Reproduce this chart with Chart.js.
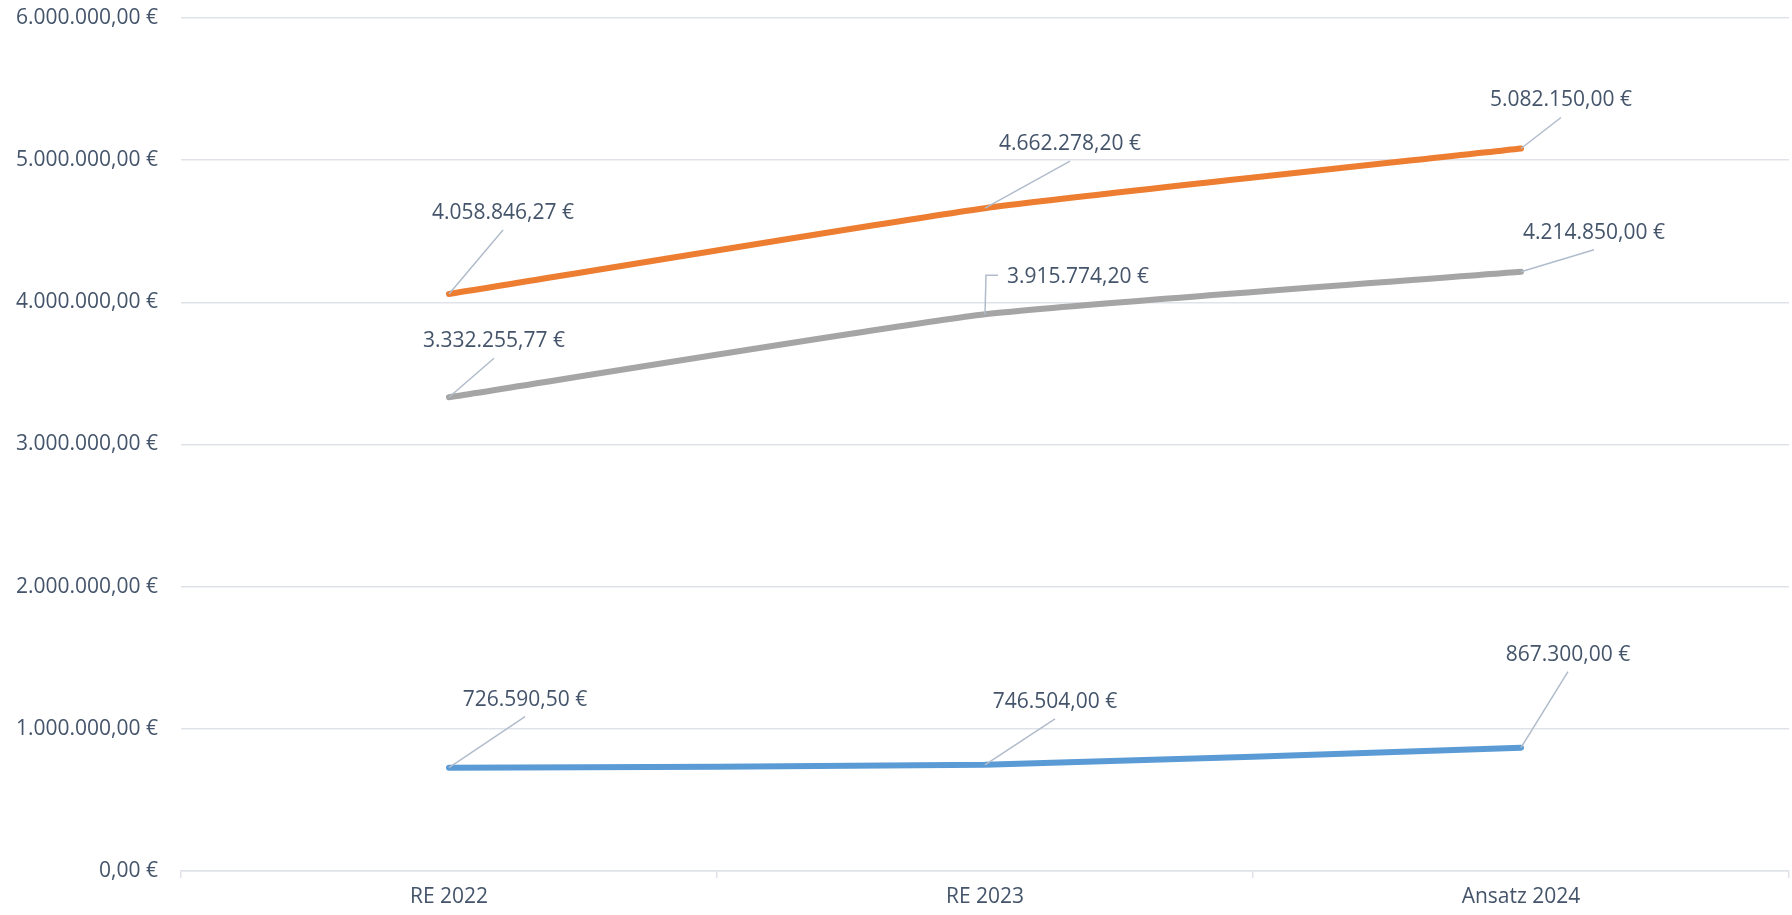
<!DOCTYPE html>
<html>
<head>
<meta charset="utf-8">
<script src="https://cdn.jsdelivr.net/npm/chart.js@4"></script>
<style>
    html, body { margin: 0; padding: 0; background: #fff; }
    #wrap { width: 1792px; height: 915px; }
</style>
</head>
<body>
<div id="wrap"><canvas id="mainChart" width="1792" height="915"></canvas></div>
<script>
// Data
const categories = ['RE 2022', 'RE 2023', 'Ansatz 2024'];
const seriesOrange = [4058846.27, 4662278.20, 5082150.00];
const seriesGray = [3332255.77, 3915774.20, 4214850.00];
const seriesBlue = [726590.50, 746504.00, 867300.00];
const yTicks = [0, 1000000, 2000000, 3000000, 4000000, 5000000, 6000000];

const TEXT_COLOR = '#44546A';
const FONT = '"Open Sans", "Noto Sans", sans-serif';

function euro(v) {
    const fixed = Math.abs(v).toFixed(2);
    const [intPart, dec] = fixed.split('.');
    const grouped = intPart.replace(/\B(?=(\d{3})+(?!\d))/g, '.');
    return (v < 0 ? '-' : '') + grouped + ',' + dec + ' €';
}

// where each data label sits relative to its point (pixels)
const labelOffsets = [
    [{ dx: 54, dy: -81 }, { dx: 85, dy: -64 }, { dx: 40, dy: -48 }],
    [{ dx: 45, dy: -56 }, { dx: 93, dy: -37, elbow: true }, { dx: 73, dy: -39 }],
    [{ dx: 76, dy: -68 }, { dx: 70, dy: -63 }, { dx: 47, dy: -93 }]
];

const calloutPlugin = {
    id: 'callouts',
    afterDatasetsDraw(chart) {
        const ctx = chart.ctx;
        ctx.save();
        ctx.font = '21px ' + FONT;
        chart.data.datasets.forEach((ds, di) => {
            const meta = chart.getDatasetMeta(di);
            meta.data.forEach((pt, i) => {
                const off = labelOffsets[di][i];
                const tx = pt.x + off.dx;
                const ty = pt.y + off.dy;
                const text = euro(ds.data[i]);
                const w = ctx.measureText(text).width;

                ctx.strokeStyle = '#B0BCCB';
                ctx.lineWidth = 1.5;
                ctx.beginPath();
                ctx.moveTo(pt.x, pt.y);
                if (off.elbow) {
                    ctx.lineTo(pt.x + 1, ty - 2);
                    ctx.lineTo(tx - w / 2 - 9, ty - 2);
                } else {
                    ctx.lineTo(tx, ty + 17);
                }
                ctx.stroke();

                ctx.fillStyle = TEXT_COLOR;
                ctx.textAlign = 'center';
                ctx.textBaseline = 'middle';
                ctx.fillText(text, tx, ty);
            });
        });
        ctx.restore();
    }
};

const lineStyle = {
    borderWidth: 6,
    pointRadius: 0,
    pointHoverRadius: 0,
    tension: 0.15,
    borderCapStyle: 'round',
    borderJoinStyle: 'round',
    fill: false
};

new Chart(document.getElementById('mainChart'), {
    type: 'line',
    data: {
        labels: categories,
        datasets: [
            { label: 'Orange', data: seriesOrange, borderColor: '#ED7D31', ...lineStyle },
            { label: 'Grau', data: seriesGray, borderColor: '#A5A5A5', ...lineStyle },
            { label: 'Blau', data: seriesBlue, borderColor: '#5B9BD5', ...lineStyle }
        ]
    },
    options: {
        responsive: false,
        animation: false,
        layout: { padding: { top: 18, right: 3, left: 0, bottom: 0 } },
        plugins: {
            legend: { display: false },
            tooltip: { enabled: false }
        },
        scales: {
            y: {
                min: 0,
                max: 6000000,
                afterBuildTicks(axis) { axis.ticks = yTicks.map(v => ({ value: v })); },
                afterFit(axis) {
                    axis.width = 181;
                    axis.paddingTop = 0;
                    axis.paddingBottom = 0;
                },
                border: { display: false },
                grid: { color: '#DFE3E9', lineWidth: 1.5, drawTicks: false },
                ticks: {
                    color: TEXT_COLOR,
                    font: { family: FONT, size: 21 },
                    padding: 23,
                    callback: v => euro(v)
                }
            },
            x: {
                offset: true,
                afterFit(axis) { axis.height = 44; },
                border: { display: true, color: '#DFE3E9', width: 1.5 },
                grid: { offset: true, drawOnChartArea: false, drawTicks: true, tickLength: 7, color: '#DFE3E9', lineWidth: 1.5 },
                ticks: {
                    color: TEXT_COLOR,
                    font: { family: FONT, size: 21 },
                    padding: 6
                }
            }
        }
    },
    plugins: [calloutPlugin]
});
</script>
</body>
</html>
